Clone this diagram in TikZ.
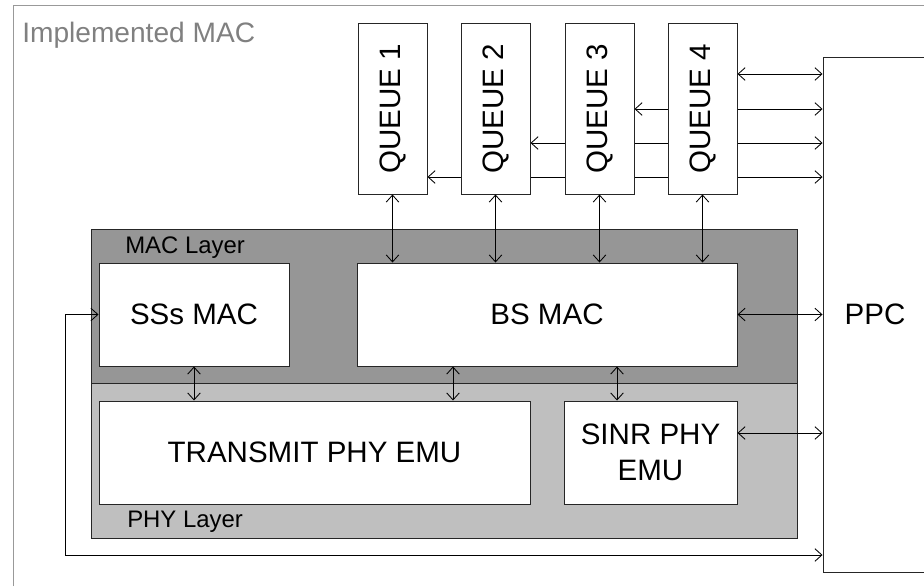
\documentclass[tikz,border=0pt]{standalone}
\usepackage{fontspec}
\setmainfont{Liberation Sans}
\usetikzlibrary{arrows.meta,backgrounds}

\tikzset{
  box/.style={draw=black!85, fill=white, line width=0.7pt, inner sep=0pt,
    font=\fontsize{21}{26}\selectfont, align=center},
  layerbox/.style={draw=black!85, line width=0.7pt, inner sep=0pt},
  laytext/.style={inner sep=0pt, font=\fontsize{17}{20}\selectfont},
  wh/.style 2 args={minimum width=#1*0.025cm, minimum height=#2*0.025cm},
  link/.style={<->, line width=0.6pt},
}

\begin{document}
\begin{tikzpicture}[x=0.025cm, y=-0.025cm, >={Straight Barb[length=5pt,width=9pt]}]
\useasboundingbox (0,0) rectangle (924,586);
% outer frame
\draw[black!40, line width=0.7pt] (13,586)--(13,5)--(924,5);
\node[anchor=base west, inner sep=0pt, text=black!50, font=\fontsize{20}{24}\selectfont]
  (title) at (22,42) {Implemented MAC};

% layers
\node[layerbox, fill=black!41, wh={706}{154}] (maclayer) at (444,306) {};
\node[layerbox, fill=black!25, wh={706}{155}] (phylayer) at (444,460.5) {};
\node[laytext, anchor=base west] (maclab) at (125,253) {MAC Layer};
\node[laytext, anchor=base west] (phylab) at (127,527) {PHY Layer};

% blocks
\node[box, wh={190}{103}] (ssmac) at (194,314.5) {SSs MAC};
\node[box, wh={380}{103}] (bsmac) at (547,314.5) {BS MAC};
\node[box, wh={431}{103}] (tx) at (314.5,452.5) {TRANSMIT PHY EMU};
\node[box, wh={173}{103}] (sinr) at (650.5,452.5) {SINR PHY\\EMU};
\node[box, wh={104}{515}] (ppc) at (875,314.5) {PPC};

% queues
\foreach \i/\x in {1/392.5,2/495.5,3/599.5,4/702.5}
  \node[box, wh={69}{171}] (q\i) at (\x,108.5) {\rotatebox{90}{QUEUE \i}};

% queues <-> PPC, running behind the other queues
\begin{scope}[on background layer]
\foreach \i/\r in {4/74,3/109,2/143,1/177}
  \draw[link] (q\i.east |- 0,\r) -- (ppc.west |- 0,\r);
\end{scope}

% queues <-> BS MAC
\foreach \i in {1,...,4}
  \draw[link] (q\i.south) -- (q\i.south |- bsmac.north);

% MAC <-> PHY
\coordinate (c1) at (453,0);
\coordinate (c2) at (617,0);
\draw[link] (ssmac.south) -- (ssmac.south |- tx.north);
\draw[link] (c1 |- bsmac.south) -- (c1 |- tx.north);
\draw[link] (c2 |- bsmac.south) -- (c2 |- sinr.north);

% to PPC
\draw[link] (bsmac.east) -- (bsmac.east -| ppc.west);
\draw[link] (sinr.east |- 0,433) -- (ppc.west |- 0,433);
\draw[link] (ssmac.west) -| (65,555) -- (ppc.west |- 0,555);
\end{tikzpicture}
\end{document}
